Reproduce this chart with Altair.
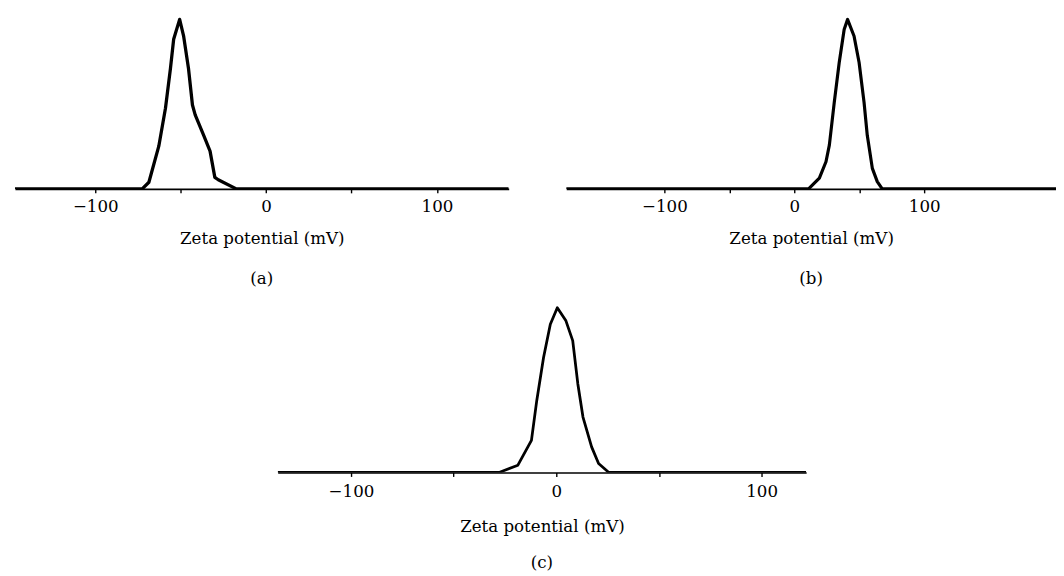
import altair as alt
import pandas as pd

# ---- data (intensity normalised to peak = 100) ----
a_x = [-147, -72.5, -68.6, -62.8, -58.9, -56.0, -54.1, -50.6, -48.3, -45.4, -43.1,
       -41.5, -36.7, -32.8, -30.0, -28.0, -17.4, 142]
a_y = [0, 0, 3.9, 25.2, 47.6, 70.9, 88.3, 100, 90.3, 70.9, 49.5,
       43.7, 32.0, 22.3, 6.8, 5.4, 0, 0]

b_x = [-175.6, 11.0, 19.3, 24.4, 27.0, 30.8, 34.6, 38.4, 41.0, 46.0, 49.9,
       53.7, 56.2, 60.1, 63.9, 67.7, 201.5]
b_y = [0, 0, 6.3, 16.0, 25.8, 51.2, 74.6, 94.1, 100, 90.2, 74.6,
       51.2, 31.6, 12.1, 4.3, 0, 0]

c_x = [-135.7, -27.9, -18.7, -12.1, -9.5, -6.2, -2.9, 0.5, 4.7, 8.0, 10.5,
       13.0, 17.2, 20.6, 25.6, 121.7]
c_y = [0, 0, 4.4, 19.5, 43.7, 69.8, 89.9, 100, 92.0, 80.0, 53.7,
       33.6, 15.5, 5.4, 0, 0]

tick_values = [-100, -50, 0, 50, 100]
x_title = "Zeta potential (mV)"
captions = ["(a)", "(b)", "(c)"]

FONT = "DejaVu Serif"
FS = 16.8


def panel(xs, ys, domain, width, height, caption, stroke,
          label_pad=6, title_pad=15, cap_off=24):
    df = pd.DataFrame({"zeta": xs, "intensity": ys, "order": list(range(len(xs)))})
    return (
        alt.Chart(df)
        .mark_line(color="black", strokeWidth=stroke, strokeJoin="round", clip=True)
        .encode(
            x=alt.X(
                "zeta:Q",
                scale=alt.Scale(domain=domain, nice=False, zero=False),
                axis=alt.Axis(
                    values=tick_values,
                    labelExpr="datum.value % 100 === 0 ? replace(datum.label, '-', '\u2212') : ''",
                    title=x_title,
                    grid=False,
                    domainColor="black",
                    domainWidth=1.6,
                    tickColor="black",
                    tickWidth=1.4,
                    tickSize=4,
                    labelFont=FONT,
                    labelFontSize=FS,
                    labelColor="black",
                    labelPadding=label_pad,
                    titleFont=FONT,
                    titleFontSize=FS,
                    titleFontWeight="normal",
                    titleColor="black",
                    titlePadding=title_pad,
                ),
            ),
            y=alt.Y("intensity:Q", scale=alt.Scale(domain=[0, 105.3], nice=False), axis=None),
            order="order:Q",
        )
        .properties(
            width=width,
            height=height,
            title=alt.TitleParams(
                text=caption,
                orient="bottom",
                anchor="middle",
                font=FONT,
                fontSize=FS,
                fontWeight="normal",
                color="black",
                offset=cap_off,
            ),
        )
    )


pa = panel(a_x, a_y, [-147, 142], 498, 180, captions[0], 3.3)
pb = panel(b_x, b_y, [-175.6, 201.5], 494, 180, captions[1], 3.2)
pc = panel(c_x, c_y, [-135.7, 121.7], 533, 175, captions[2], 2.8,
           label_pad=7, title_pad=19, cap_off=20)

spacer = (
    alt.Chart(pd.DataFrame({"v": [0]}))
    .mark_point(opacity=0)
    .encode(x=alt.value(0), y=alt.value(0))
    .properties(width=265, height=10)
)

row1 = alt.hconcat(pa, pb, spacing=58)
row2 = alt.hconcat(spacer, pc, spacing=0)

chart = (
    alt.vconcat(row1, row2, spacing=8)
    .properties(padding={"left": 4, "top": 0, "right": 0, "bottom": 0}, background="white")
    .configure_view(strokeWidth=0, stroke="transparent")
)

chart.save("out.html", embed_options={"renderer": "svg", "actions": False})
